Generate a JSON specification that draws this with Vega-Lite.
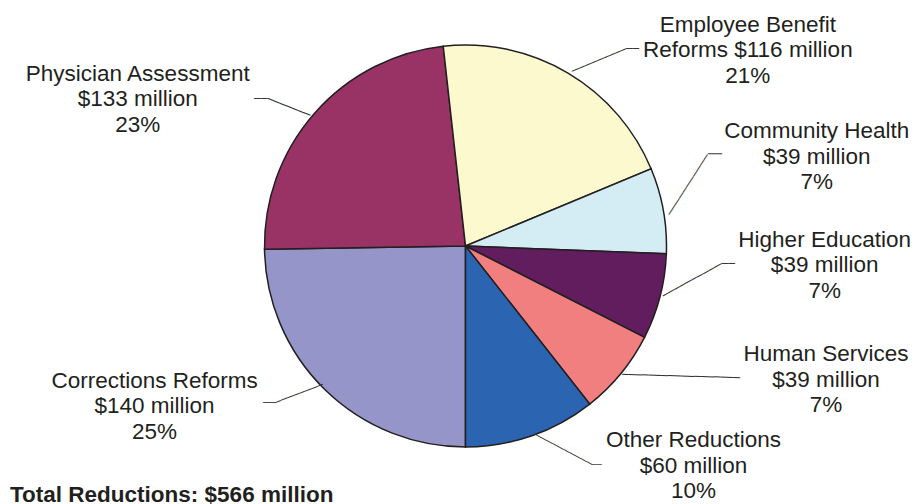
{
  "$schema": "https://vega.github.io/schema/vega-lite/v6.json",
  "width": 915,
  "height": 492,
  "autosize": "none",
  "padding": {"left": 8, "top": 0, "right": 0, "bottom": 12},
  "background": "white",
  "config": {"view": {"stroke": null}},
  "data": {
    "values": [
      {"category": "Corrections Reforms", "amount": 140, "rank": 1, "label": ["Corrections Reforms", "$140 million", "25%"]},
      {"category": "Physician Assessment", "amount": 133, "rank": 2, "label": ["Physician Assessment", "$133 million", "23%"]},
      {"category": "Employee Benefit Reforms", "amount": 116, "rank": 3, "label": ["Employee Benefit", "Reforms $116 million", "21%"]},
      {"category": "Community Health", "amount": 39, "rank": 4, "label": ["Community Health", "$39 million", "7%"]},
      {"category": "Higher Education", "amount": 39, "rank": 5, "label": ["Higher Education", "$39 million", "7%"]},
      {"category": "Human Services", "amount": 39, "rank": 6, "label": ["Human Services", "$39 million", "7%"]},
      {"category": "Other Reductions", "amount": 60, "rank": 7, "label": ["Other Reductions", "$60 million", "10%"]}
    ]
  },
  "encoding": {
    "theta": {"field": "amount", "type": "quantitative", "stack": true, "scale": {"range": [3.141592653589793, 9.42477796076938]}},
    "order": {"field": "rank", "type": "quantitative"},
    "detail": {"field": "category", "type": "nominal"}
  },
  "layer": [
    {
      "mark": {"type": "arc", "outerRadius": 201, "stroke": "#231F20", "strokeWidth": 1.5},
      "encoding": {
        "color": {
          "field": "category",
          "type": "nominal",
          "legend": null,
          "scale": {
            "domain": ["Corrections Reforms", "Physician Assessment", "Employee Benefit Reforms", "Community Health", "Higher Education", "Human Services", "Other Reductions"],
            "range": ["#9595C9", "#993366", "#FCF9CE", "#D4EDF4", "#611D5E", "#F17F80", "#2B65B2"]
          }
        }
      }
    },
    {"mark": {"type": "text", "radius": 522.5, "thetaOffset": 0.2817, "font": "Liberation Sans", "fontSize": 22.5, "fontWeight": "bold", "align": "left", "baseline": "alphabetic", "color": "#231F20"},
     "encoding": {"text": {"condition": {"test": "datum.category === 'Corrections Reforms'", "value": "Total Reductions: $566 million"}, "value": ""}}},
    {"mark": {"type": "text", "radius": 370.2, "thetaOffset": -0.2381, "font": "Liberation Sans", "fontSize": 22.5, "lineHeight": 25.5, "align": "center", "baseline": "middle", "color": "#231F20"},
     "encoding": {"text": {"condition": {"test": "datum.category === 'Physician Assessment'", "field": "label"}, "value": ""}}},
    {"mark": {"type": "text", "radius": 358.8, "thetaOffset": 0.3728, "font": "Liberation Sans", "fontSize": 22.5, "lineHeight": 25.5, "align": "center", "baseline": "middle", "color": "#231F20"},
     "encoding": {"text": {"condition": {"test": "datum.category === 'Employee Benefit Reforms'", "field": "label"}, "value": ""}}},
    {"mark": {"type": "text", "radius": 369.5, "thetaOffset": -0.1383, "font": "Liberation Sans", "fontSize": 22.5, "lineHeight": 25.5, "align": "center", "baseline": "middle", "color": "#231F20"},
     "encoding": {"text": {"condition": {"test": "datum.category === 'Community Health'", "field": "label"}, "value": ""}}},
    {"mark": {"type": "text", "radius": 359.2, "thetaOffset": -0.2731, "font": "Liberation Sans", "fontSize": 22.5, "lineHeight": 25.5, "align": "center", "baseline": "middle", "color": "#231F20"},
     "encoding": {"text": {"condition": {"test": "datum.category === 'Higher Education'", "field": "label"}, "value": ""}}},
    {"mark": {"type": "text", "radius": 376.3, "thetaOffset": -0.3971, "font": "Liberation Sans", "fontSize": 22.5, "lineHeight": 25.5, "align": "center", "baseline": "middle", "color": "#231F20"},
     "encoding": {"text": {"condition": {"test": "datum.category === 'Human Services'", "field": "label"}, "value": ""}}},
    {"mark": {"type": "text", "radius": 299.5, "thetaOffset": -0.5323, "font": "Liberation Sans", "fontSize": 22.5, "lineHeight": 25.5, "align": "center", "baseline": "middle", "color": "#231F20"},
     "encoding": {"text": {"condition": {"test": "datum.category === 'Other Reductions'", "field": "label"}, "value": ""}}},
    {"mark": {"type": "text", "radius": 338.8, "thetaOffset": 0.3852, "font": "Liberation Sans", "fontSize": 22.5, "lineHeight": 25.5, "align": "center", "baseline": "middle", "color": "#231F20"},
     "encoding": {"text": {"condition": {"test": "datum.category === 'Corrections Reforms'", "field": "label"}, "value": ""}}},

    {"mark": {"type": "text", "radius": 252.1, "thetaOffset": -0.0990, "angle": 0, "font": "DejaVu Sans", "fontSize": 11.05, "align": "center", "baseline": "middle", "color": "#333333"},
     "encoding": {"text": {"condition": {"test": "datum.category === 'Physician Assessment'", "value": "──"}, "value": ""}}},
    {"mark": {"type": "text", "radius": 224.6, "thetaOffset": -0.0571, "angle": 21.7, "font": "DejaVu Sans", "fontSize": 10.92, "align": "center", "baseline": "middle", "color": "#333333"},
     "encoding": {"text": {"condition": {"test": "datum.category === 'Physician Assessment'", "value": "───────"}, "value": ""}}},
    {"mark": {"type": "text", "radius": 258.0, "thetaOffset": 0.1710, "angle": 0, "font": "DejaVu Sans", "fontSize": 10.8, "align": "center", "baseline": "middle", "color": "#333333"},
     "encoding": {"text": {"condition": {"test": "datum.category === 'Employee Benefit Reforms'", "value": "──"}, "value": ""}}},
    {"mark": {"type": "text", "radius": 228.4, "thetaOffset": 0.0915, "angle": -22.8, "font": "DejaVu Sans", "fontSize": 10.82, "align": "center", "baseline": "middle", "color": "#333333"},
     "encoding": {"text": {"condition": {"test": "datum.category === 'Employee Benefit Reforms'", "value": "─────────"}, "value": ""}}},
    {"mark": {"type": "text", "radius": 265.6, "thetaOffset": -0.1721, "angle": 0, "font": "DejaVu Sans", "fontSize": 11.63, "align": "center", "baseline": "middle", "color": "#333333"},
     "encoding": {"text": {"condition": {"test": "datum.category === 'Community Health'", "value": "──"}, "value": ""}}},
    {"mark": {"type": "text", "radius": 231.4, "thetaOffset": -0.0892, "angle": -57.2, "font": "DejaVu Sans", "fontSize": 10.78, "align": "center", "baseline": "middle", "color": "#333333"},
     "encoding": {"text": {"condition": {"test": "datum.category === 'Community Health'", "value": "───────────"}, "value": ""}}},
    {"mark": {"type": "text", "radius": 263.4, "thetaOffset": -0.1859, "angle": 0, "font": "DejaVu Sans", "fontSize": 11.05, "align": "center", "baseline": "middle", "color": "#333333"},
     "encoding": {"text": {"condition": {"test": "datum.category === 'Higher Education'", "value": "──"}, "value": ""}}},
    {"mark": {"type": "text", "radius": 229.6, "thetaOffset": -0.1045, "angle": -29.0, "font": "DejaVu Sans", "fontSize": 11.1, "align": "center", "baseline": "middle", "color": "#333333"},
     "encoding": {"text": {"condition": {"test": "datum.category === 'Higher Education'", "value": "──────────"}, "value": ""}}},
    {"mark": {"type": "text", "radius": 252.0, "thetaOffset": -0.1430, "angle": 1.6, "font": "DejaVu Sans", "fontSize": 10.89, "align": "center", "baseline": "middle", "color": "#333333"},
     "encoding": {"text": {"condition": {"test": "datum.category === 'Human Services'", "value": "──────────────────"}, "value": ""}}},
    {"mark": {"type": "text", "radius": 255.3, "thetaOffset": -0.2068, "angle": 0, "font": "DejaVu Sans", "fontSize": 8.31, "align": "center", "baseline": "middle", "color": "#333333"},
     "encoding": {"text": {"condition": {"test": "datum.category === 'Other Reductions'", "value": "──"}, "value": ""}}},
    {"mark": {"type": "text", "radius": 226.3, "thetaOffset": -0.1143, "angle": 27.9, "font": "DejaVu Sans", "fontSize": 10.65, "align": "center", "baseline": "middle", "color": "#333333"},
     "encoding": {"text": {"condition": {"test": "datum.category === 'Other Reductions'", "value": "──────────"}, "value": ""}}},
    {"mark": {"type": "text", "radius": 251.7, "thetaOffset": 0.1187, "angle": 0, "font": "DejaVu Sans", "fontSize": 9.97, "align": "center", "baseline": "middle", "color": "#333333"},
     "encoding": {"text": {"condition": {"test": "datum.category === 'Corrections Reforms'", "value": "──"}, "value": ""}}},
    {"mark": {"type": "text", "radius": 222.9, "thetaOffset": 0.0665, "angle": -20.9, "font": "DejaVu Sans", "fontSize": 10.67, "align": "center", "baseline": "middle", "color": "#333333"},
     "encoding": {"text": {"condition": {"test": "datum.category === 'Corrections Reforms'", "value": "────────"}, "value": ""}}}
  ]
}
